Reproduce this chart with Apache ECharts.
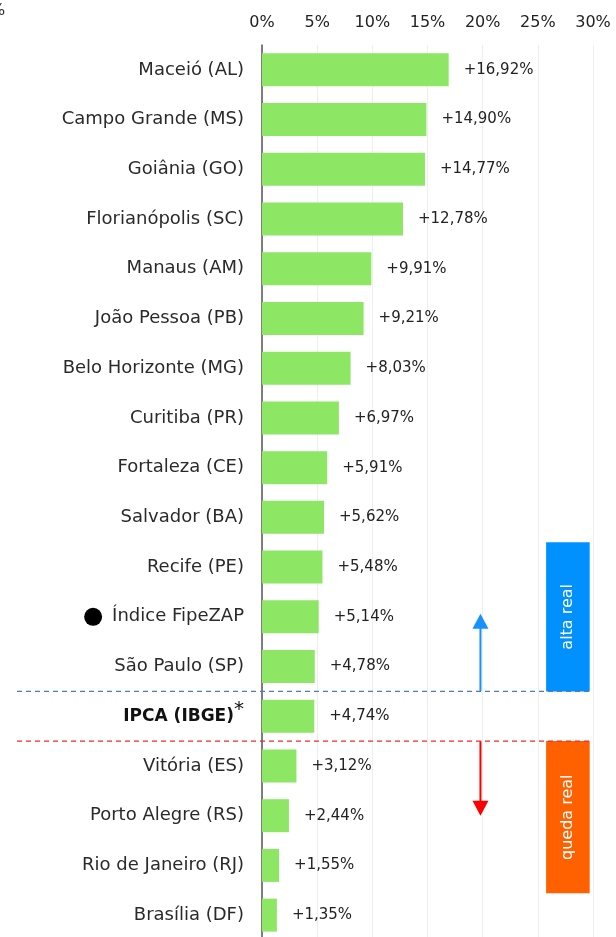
<!DOCTYPE html>
<html>
<head>
<meta charset="utf-8">
<script src="https://cdn.jsdelivr.net/npm/echarts@6/dist/echarts.min.js"></script>
<style>
  html, body { margin: 0; padding: 0; background: #fff; }
  #chart { width: 616px; height: 937px; }
</style>
</head>
<body>
<div id="chart"></div>
<script>
  // dados: variação acumulada do preço de locação por cidade
  var cidades = ['Maceió (AL)', 'Campo Grande (MS)', 'Goiânia (GO)', 'Florianópolis (SC)', 'Manaus (AM)',
    'João Pessoa (PB)', 'Belo Horizonte (MG)', 'Curitiba (PR)', 'Fortaleza (CE)', 'Salvador (BA)',
    'Recife (PE)', 'Índice FipeZAP', 'São Paulo (SP)', 'IPCA (IBGE)', 'Vitória (ES)',
    'Porto Alegre (RS)', 'Rio de Janeiro (RJ)', 'Brasília (DF)'];
  var variacao = [16.92, 14.90, 14.77, 12.78, 9.91, 9.21, 8.03, 6.97, 5.91, 5.62,
    5.48, 5.14, 4.78, 4.74, 3.12, 2.44, 1.55, 1.35];
  var ticksX = [0, 5, 10, 15, 20, 25, 30];

  var fonte = '"DejaVu Sans", sans-serif';
  var chart = echarts.init(document.getElementById('chart'));

  var option = {
    animation: false,
    textStyle: { fontFamily: fonte },
    grid: { left: 262, right: 23, top: 45, height: 895, outerBoundsMode: 'none', containLabel: false },
    xAxis: {
      type: 'value',
      position: 'top',
      min: ticksX[0],
      max: ticksX[ticksX.length - 1],
      interval: 5,
      axisLine: { show: false },
      axisTick: { show: false },
      axisLabel: { formatter: '{value}%', fontSize: 16, color: '#222', margin: 14 },
      splitLine: { lineStyle: { color: '#eeeeee' } }
    },
    yAxis: [
      {
        type: 'category',
        inverse: true,
        data: cidades,
        axisLine: { lineStyle: { color: '#555', width: 1.5 } },
        axisTick: { length: 3, lineStyle: { color: '#333' } },
        axisLabel: {
          fontSize: 18,
          color: '#2a2a2a',
          margin: 18,
          formatter: function (v) {
            if (v === 'Índice FipeZAP') return '{dot| }{gap| }' + v;
            if (v === 'IPCA (IBGE)') return '{b|IPCA (IBGE)}{sup|*}';
            return v;
          },
          rich: {
            dot: { width: 18, height: 18, borderRadius: 9, backgroundColor: '#000' },
            gap: { width: 10 },
            b: { fontSize: 17, fontWeight: 'bold', color: '#111', fontFamily: fonte },
            sup: { fontSize: 20, color: '#111', verticalAlign: 'top', padding: [0, 0, 12, 0], fontFamily: fonte }
          }
        }
      },
      {
        type: 'category',
        inverse: true,
        position: 'left',
        data: cidades,
        axisLine: { show: false },
        axisTick: { inside: true, length: 6, lineStyle: { color: '#333' } },
        axisLabel: { show: false }
      }
    ],
    series: [{
      type: 'bar',
      data: variacao,
      barWidth: 33,
      itemStyle: { color: '#8ee665' },
      label: {
        show: true,
        position: 'right',
        distance: 15,
        fontSize: 15,
        color: '#222',
        formatter: function (p) {
          return '+' + p.value.toFixed(2).replace('.', ',') + '%';
        }
      }
    }]
  };
  chart.setOption(option);

  // anotações: linhas de referência, setas e caixas
  function px(v) { return chart.convertToPixel({ xAxisIndex: 0 }, v); }
  function py(i) { return chart.convertToPixel({ yAxisIndex: 0 }, i); }
  function borda(i) { return (py(i) + py(i + 1)) / 2; }

  var iSP = cidades.indexOf('São Paulo (SP)');
  var iIPCA = cidades.indexOf('IPCA (IBGE)');
  var yAlta = borda(iSP);
  var yQueda = borda(iIPCA);
  var xDir = px(29.7);
  var xCaixa = px(25.75);
  var xSeta = px(19.8);
  var topoAlta = borda(cidades.indexOf('Salvador (BA)'));
  var fimQueda = borda(cidades.indexOf('Rio de Janeiro (RJ)')) + 3;
  var alvoAlta = py(cidades.indexOf('Índice FipeZAP')) - 3;
  var alvoQueda = py(cidades.indexOf('Porto Alegre (RS)'));

  function caixa(y0, y1, cor, texto) {
    return [{
      type: 'rect',
      shape: { x: xCaixa, y: y0, width: xDir - xCaixa, height: y1 - y0 },
      style: { fill: cor },
      z: 5
    }, {
      type: 'text',
      x: (xCaixa + xDir) / 2,
      y: (y0 + y1) / 2,
      rotation: Math.PI / 2,
      style: { text: texto, fill: '#fff', font: '16px ' + fonte, align: 'center', verticalAlign: 'middle' },
      z: 6
    }];
  }

  function seta(y0, y1, cor) {
    var dir = y1 < y0 ? -1 : 1;
    return [{
      type: 'line',
      shape: { x1: xSeta, y1: y0, x2: xSeta, y2: y1 - dir * 14 },
      style: { stroke: cor, lineWidth: 2 },
      z: 6
    }, {
      type: 'polygon',
      shape: { points: [[xSeta, y1], [xSeta - 8, y1 - dir * 15], [xSeta + 8, y1 - dir * 15]] },
      style: { fill: cor },
      z: 6
    }];
  }

  var graficos = []
    .concat(caixa(topoAlta, yAlta, '#0091ff', 'alta real'))
    .concat(caixa(yQueda, fimQueda, '#ff6000', 'queda real'))
    .concat(seta(yAlta, alvoAlta, '#1890ff'))
    .concat(seta(yQueda, alvoQueda, '#ff0000'))
    .concat([{
      type: 'line',
      shape: { x1: 17, y1: yAlta, x2: xDir, y2: yAlta },
      style: { stroke: '#4d7dbd', lineWidth: 1.3, lineDash: [5, 4] },
      z: 7
    }, {
      type: 'line',
      shape: { x1: 17, y1: yQueda, x2: xDir, y2: yQueda },
      style: { stroke: '#f02828', lineWidth: 1.3, lineDash: [5, 4] },
      z: 7
    }, {
      type: 'text',
      x: -10,
      y: 3,
      style: { text: '%', fill: '#333', font: '16px ' + fonte }
    }]);

  chart.setOption({ graphic: graficos });
</script>
</body>
</html>
